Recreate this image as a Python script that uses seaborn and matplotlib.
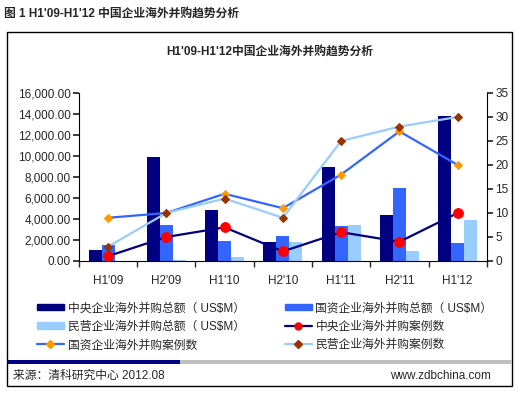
import numpy as np
import pandas as pd
import seaborn as sns
import matplotlib.pyplot as plt
from matplotlib.patches import Rectangle, Patch
from matplotlib.lines import Line2D
from matplotlib.ticker import FuncFormatter

# 数据
periods = ["H1'09", "H2'09", "H1'10", "H2'10", "H1'11", "H2'11", "H1'12"]
central_amount = [1050, 9900, 4860, 1810, 8950, 4410, 13840]
state_amount = [1520, 3430, 1900, 2410, 3370, 6950, 1710]
private_amount = [0, 100, 400, 1800, 3430, 950, 3900]
central_cases = [1, 5, 7, 2, 6, 4, 10]
state_cases = [9, 10, 14, 11, 18, 27, 20]
private_cases = [3, 10, 13, 9, 25, 28, 30]

bar_names = ["中央企业海外并购总额（ US$M）", "国资企业海外并购总额（ US$M）", "民营企业海外并购总额（ US$M）"]
line_names = ["中央企业海外并购案例数", "国资企业海外并购案例数", "民营企业海外并购案例数"]
bar_colors = ["#000080", "#3366FF", "#99CCFF"]
line_colors = ["#000080", "#3366FF", "#99CCFF"]
marker_colors = ["#FF0000", "#FF9900", "#993300"]

sns.set_theme(style="white")
plt.rcParams["font.family"] = ["Liberation Sans", "Noto Sans CJK SC", "DejaVu Sans"]

df = pd.DataFrame({
    "period": periods * 3,
    "amount": central_amount + state_amount + private_amount,
    "type": sum([[n] * len(periods) for n in bar_names], []),
})

fig = plt.figure(figsize=(5.19, 3.94), dpi=100)
ax = fig.add_axes([0.152, 0.3376, 0.786, 0.4264])

sns.barplot(data=df, x="period", y="amount", hue="type", hue_order=bar_names,
            palette=bar_colors, width=0.67, saturation=1, linewidth=0,
            ax=ax, legend=False)
ax.set_ylim(0, 16000)
ax.set_xlim(-0.5, len(periods) - 0.5)
ax.set_yticks(np.arange(0, 16001, 2000))
ax.yaxis.set_major_formatter(FuncFormatter(lambda v, p: f"{v:,.2f}"))
ax.set_xlabel("")
ax.set_ylabel("")
ax.set_xticks(np.arange(len(periods)))
ax.set_xticklabels(periods)
ax.set_xticks(np.arange(len(periods) + 1) - 0.5, minor=True)
ax.tick_params(axis="x", which="major", length=0, labelsize=8.5, pad=10)
ax.tick_params(axis="x", which="minor", length=4, direction="out", bottom=True)
ax.tick_params(axis="y", length=4, direction="out", left=True, labelsize=8.5, pad=2)
for s in ["top", "right"]:
    ax.spines[s].set_visible(False)
for s in ["left", "bottom"]:
    ax.spines[s].set_color("black")
    ax.spines[s].set_linewidth(0.8)

ax2 = ax.twinx()
x = np.arange(len(periods))
for vals, name, lc, mc in zip([central_cases, state_cases, private_cases],
                              line_names, line_colors, marker_colors):
    m = "o" if mc == "#FF0000" else "D"
    sns.lineplot(x=x, y=vals, ax=ax2, color=lc, linewidth=1.6, marker=m,
                 markersize=7 if m == "o" else 4.5, markerfacecolor=mc,
                 markeredgecolor=mc, legend=False)
ax2.set_ylim(0, 35)
ax2.set_yticks(np.arange(0, 36, 5))
ax2.tick_params(axis="y", length=4, direction="out", right=True, labelsize=8.5, pad=2)
for s in ["top", "left"]:
    ax2.spines[s].set_visible(False)
ax2.spines["right"].set_color("black")
ax2.spines["right"].set_linewidth(0.8)
ax2.spines["bottom"].set_visible(False)

# 图例
h = {}
for n, c in zip(bar_names, bar_colors):
    h[n] = Patch(facecolor=c, edgecolor=c)
for n, lc, mc in zip(line_names, line_colors, marker_colors):
    m = "o" if mc == "#FF0000" else "D"
    h[n] = Line2D([0], [0], color=lc, linewidth=1.6, marker=m,
                  markersize=5 if m == "o" else 4, markerfacecolor=mc, markeredgecolor=mc)
order = [bar_names[0], bar_names[2], line_names[1], bar_names[1], line_names[0], line_names[2]]
fig.legend([h[n] for n in order], order, loc="upper left", bbox_to_anchor=(0.062, 0.245),
           ncol=2, frameon=False, fontsize=8.5, handlelength=2.3, handleheight=0.5,
           columnspacing=3.4, labelspacing=0.55, handletextpad=0.3, borderaxespad=0)

# 标题和框
fig.text(0.008, 0.963, "图 1 H1'09-H1'12 中国企业海外并购趋势分析", fontsize=8.5,
         fontweight="bold", ha="left", va="center")
fig.text(0.52, 0.866, "H1'09-H1'12中国企业海外并购趋势分析", fontsize=8.5,
         fontweight="bold", ha="center", va="center")
fig.add_artist(Rectangle((0.0135, 0.02), 0.973, 0.9, transform=fig.transFigure,
                         fill=False, edgecolor="black", linewidth=1))
fig.add_artist(Rectangle((0.0135, 0.075), 0.333, 0.011, transform=fig.transFigure,
                         facecolor="#000080", edgecolor="none"))
fig.add_artist(Rectangle((0.3465, 0.075), 0.64, 0.011, transform=fig.transFigure,
                         facecolor="#BFBFBF", edgecolor="none"))
fig.text(0.025, 0.045, "来源：清科研究中心 2012.08", fontsize=8.5, ha="left", va="center")
fig.text(0.945, 0.045, "www.zdbchina.com", fontsize=8.5, ha="right", va="center")

fig.savefig("out.png", dpi=100)
